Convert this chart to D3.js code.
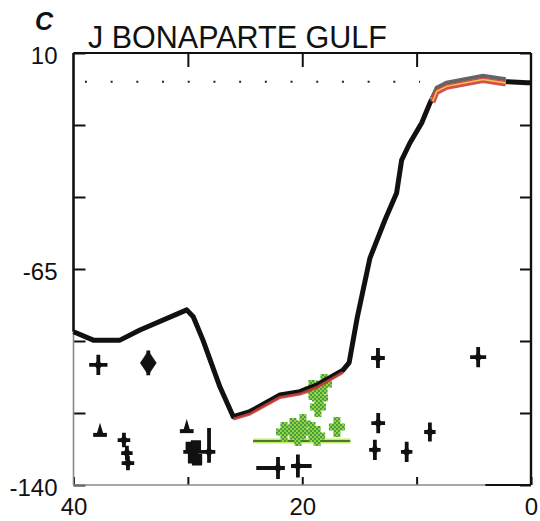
<!DOCTYPE html>
<html>
<head>
<meta charset="utf-8">
<script src="https://cdn.jsdelivr.net/npm/d3@7"></script>
<style>
  html, body { margin: 0; padding: 0; background: #fff; }
  svg { display: block; font-family: "Liberation Sans", Arial, Helvetica, sans-serif; }
</style>
</head>
<body>
<svg id="chart" width="540" height="521"></svg>
<script>
// Relative sea level, Joseph Bonaparte Gulf: age (ka BP) vs level (m)

// Sea-level curve
const curveAge   = [40.0, 38.27, 35.94, 34.19, 30.1, 29.53, 28.68, 27.2, 26.03, 24.57, 21.95, 20.2, 18.74, 16.44, 15.9, 15.2, 14.08, 12.77, 11.75, 11.31, 10.59, 9.56, 8.84, 8.25, 7.38, 4.2, 2.13, 0.36, 0.0];
const curveLevel = [-86.8, -89.7, -89.7, -86.2, -79.2, -81.6, -89.7, -105.9, -116.3, -114.5, -108.75, -107.6, -105.3, -100.1, -97.5, -82.0, -61.2, -48.0, -38.6, -27.2, -21.25, -14.3, -7.4, -2.85, -1.1, 1.3, 0.03, -0.3, -0.3];

// Model envelope drawn along the curve (glacial maximum and Holocene sections)
const envLowAge    = [26.03, 24.57, 21.95, 20.2, 18.74, 16.44];
const envLowLevel  = [-116.3, -114.5, -108.75, -107.6, -105.3, -100.1];
const envHighAge   = [8.6, 8.25, 7.38, 4.2, 2.2];
const envHighLevel = [-6.3, -2.85, -1.1, 1.3, 0.1];

// Black sample markers: age, level, error towards older / younger age (ka),
// error up / down in level (m), symbol
const markAge      = [37.83, 33.46, 37.68, 35.59, 35.33, 35.24, 30.1, 29.75, 29.3, 29.55, 29.2, 28.15, 22.12, 20.38, 13.36, 13.65, 10.87, 8.84, 13.38, 4.62];
const markLevel    = [-98.3, -97.6, -122.6, -124.4, -128.9, -132.4, -121.3, -127.0, -126.5, -130.5, -131.2, -128.5, -134.1, -133.4, -118.5, -127.8, -128.5, -121.6, -95.9, -95.6];
const markErrOld   = [0.8, 0.6, 0.6, 0.55, 0.5, 0.55, 0.6, 0.45, 0.45, 0.45, 0.45, 2.25, 1.9, 0.6, 0.6, 0.5, 0.5, 0.5, 0.6, 0.7];
const markErrYoung = [0.8, 0.6, 0.6, 0.55, 0.5, 0.55, 0.6, 0.45, 0.45, 0.45, 0.45, 0.55, 0.6, 1.2, 0.6, 0.5, 0.5, 0.5, 0.6, 0.7];
const markErrUp    = [3.5, 4.3, 3.5, 2.5, 2.5, 2.5, 3.5, 2.0, 2.0, 2.0, 2.0, 8.3, 3.8, 4.0, 3.5, 3.5, 3.5, 3.3, 3.5, 3.5];
const markErrDown  = [3.5, 4.3, 0, 2.5, 2.5, 2.5, 0, 2.0, 2.0, 2.0, 2.0, 3.8, 3.8, 4.0, 3.5, 3.5, 3.5, 3.3, 3.5, 3.5];
const markShape    = ["plus", "diamond", "tee", "plus", "plus", "plus", "tee", "block", "block", "block", "block", "plus", "plus", "plus", "plus", "plus", "plus", "plus", "plus", "plus"];

// Green sample markers and their baseline
const greenAge   = [19.15, 18.45, 18.63, 18.1, 21.6, 20.81, 19.94, 19.15, 20.38, 18.7, 16.97];
const greenLevel = [-107.0, -109.8, -112.9, -104.9, -121.6, -120.2, -118.8, -121.6, -123.0, -123.0, -119.9];
const greenLineAge = [24.3, 15.8];
const greenLineLevel = -124.7;

// Present-day level reference
const refAge = [39.0, 9.7];
const refLevel = 0;

// Axis ticks and labels
const xTicksTop = [30, 20, 10];
const xTicksBottom = [40, 30, 20, 10, 0];
const xLabels = [40, 20, 0];
const yTicks = [10, -15, -40, -65, -90, -115, -140];
const yLabels = [10, -65, -140];

const panelLetter = "C";
const title = "J BONAPARTE GULF";

const svg = d3.select("#chart");
const x = d3.scaleLinear().domain([40, 0]).range([73.5, 531]);
const y = d3.scaleLinear().domain([10, -140]).range([53, 485]);

// checkered fill for the green markers
const defs = svg.append("defs");
const pat = defs.append("pattern").attr("id", "greenCheck")
  .attr("width", 4).attr("height", 4).attr("patternUnits", "userSpaceOnUse");
pat.append("rect").attr("width", 4).attr("height", 4).attr("fill", "#9ccf3c");
pat.append("rect").attr("width", 2).attr("height", 2).attr("fill", "#3fa045");
pat.append("rect").attr("x", 2).attr("y", 2).attr("width", 2).attr("height", 2).attr("fill", "#3fa045");

// titles
svg.append("text").attr("x", 35).attr("y", 30)
  .attr("font-size", 25).attr("font-weight", "bold").attr("font-style", "italic")
  .attr("fill", "#111").text(panelLetter);
svg.append("text").attr("x", 88).attr("y", 48)
  .attr("font-size", 30.5).attr("fill", "#111").text(title);

// axes
function styleAxis(g) {
  g.select(".domain").remove();
  g.selectAll(".tick line").attr("stroke", "#111").attr("stroke-width", 2);
  g.selectAll(".tick text").attr("font-size", 24).attr("fill", "#111")
    .attr("font-family", "'Liberation Sans', Arial, sans-serif");
}
svg.append("g").attr("transform", `translate(${x(40)},0)`)
  .call(d3.axisLeft(y).tickValues(yTicks).tickSize(-12).tickPadding(16)
    .tickFormat(d => yLabels.includes(d) ? d : ""))
  .call(styleAxis)
  .call(g => g.selectAll(".tick text").attr("dy", "0.42em"));
svg.append("g").attr("transform", `translate(${x(0)},0)`)
  .call(d3.axisRight(y).tickValues(yTicks).tickSize(-11).tickFormat(""))
  .call(styleAxis);
svg.append("g").attr("transform", `translate(0,${y(10)})`)
  .call(d3.axisTop(x).tickValues(xTicksTop).tickSize(-14).tickFormat(""))
  .call(styleAxis);
svg.append("g").attr("transform", `translate(0,${y(-140)})`)
  .call(d3.axisBottom(x).tickValues(xTicksBottom).tickSize(-8).tickPadding(13)
    .tickFormat(d => xLabels.includes(d) ? d : ""))
  .call(styleAxis);

// frame
const frame = svg.append("g").attr("fill", "none");
frame.append("line").attr("x1", x(40)).attr("x2", x(0)).attr("y1", y(10)).attr("y2", y(10))
  .attr("stroke", "#111").attr("stroke-width", 2.2);
frame.append("line").attr("x1", x(0)).attr("x2", x(0)).attr("y1", y(10)).attr("y2", y(-140))
  .attr("stroke", "#111").attr("stroke-width", 2.4);
frame.append("line").attr("x1", x(40)).attr("x2", x(40)).attr("y1", y(10)).attr("y2", y(-86.8))
  .attr("stroke", "#111").attr("stroke-width", 2.6);
frame.append("line").attr("x1", x(40)).attr("x2", x(40)).attr("y1", y(-86.8)).attr("y2", y(-140))
  .attr("stroke", "#8a8a8a").attr("stroke-width", 1.6);
frame.append("line").attr("x1", x(40)).attr("x2", x(4)).attr("y1", y(-140)).attr("y2", y(-140))
  .attr("stroke", "#8a8a8a").attr("stroke-width", 1.6);
frame.append("line").attr("x1", x(4)).attr("x2", x(0)).attr("y1", y(-140)).attr("y2", y(-140))
  .attr("stroke", "#111").attr("stroke-width", 2);

// present-day reference (dotted)
svg.append("line")
  .attr("x1", x(refAge[0])).attr("x2", x(refAge[1]))
  .attr("y1", y(refLevel)).attr("y2", y(refLevel))
  .attr("stroke", "#222").attr("stroke-width", 2).attr("stroke-dasharray", "2 23.7");

// green samples
const gBase = svg.append("g");
gBase.append("line")
  .attr("x1", x(greenLineAge[0])).attr("x2", x(greenLineAge[1]))
  .attr("y1", y(greenLineLevel)).attr("y2", y(greenLineLevel))
  .attr("stroke", "#cde86e").attr("stroke-width", 5);
gBase.append("line")
  .attr("x1", x(greenLineAge[0])).attr("x2", x(greenLineAge[1]))
  .attr("y1", y(greenLineLevel)).attr("y2", y(greenLineLevel))
  .attr("stroke", "#3f7f2a").attr("stroke-width", 2);
const greenIdx = d3.range(greenAge.length);
svg.append("g").selectAll("path").data(greenIdx).join("path")
  .attr("d", i => {
    const cx = x(greenAge[i]), cy = y(greenLevel[i]);
    const ah = 8, av = 10, t = 3.5;
    return `M${cx - t},${cy - av}H${cx + t}V${cy - t}H${cx + ah}V${cy + t}H${cx + t}V${cy + av}H${cx - t}V${cy + t}H${cx - ah}V${cy - t}H${cx - t}Z`;
  })
  .attr("fill", "url(#greenCheck)");

// sea-level curve
const idx = d3.range(curveAge.length);
const line = d3.line().x(i => x(curveAge[i])).y(i => y(curveLevel[i])).curve(d3.curveLinear);
svg.append("path").attr("d", line(idx))
  .attr("fill", "none").attr("stroke", "#111").attr("stroke-width", 5)
  .attr("stroke-linejoin", "round").attr("stroke-linecap", "butt");

// model envelope along the curve
const envLowIdx = d3.range(envLowAge.length);
const envLine = (a, l) => d3.line().x(i => x(a[i])).y(i => y(l[i]));
svg.append("path").attr("d", envLine(envLowAge, envLowLevel)(envLowIdx))
  .attr("transform", "translate(0,2.4)")
  .attr("fill", "none").attr("stroke", "#c53f3a").attr("stroke-width", 3)
  .attr("stroke-linejoin", "round").attr("opacity", 0.9);
const envHighIdx = d3.range(envHighAge.length);
svg.append("path").attr("d", envLine(envHighAge, envHighLevel)(envHighIdx))
  .attr("fill", "none").attr("stroke", "#fff").attr("stroke-width", 5.5);
svg.append("path").attr("d", envLine(envHighAge, envHighLevel)(envHighIdx))
  .attr("transform", "translate(0,-2.2)")
  .attr("fill", "none").attr("stroke", "#4a4a4a").attr("stroke-width", 4).attr("opacity", 0.85);
svg.append("path").attr("d", envLine(envHighAge, envHighLevel)(envHighIdx))
  .attr("transform", "translate(0,2.2)")
  .attr("fill", "none").attr("stroke", "#d33d3d").attr("stroke-width", 5.5).attr("opacity", 0.9);
svg.append("path").attr("d", envLine(envHighAge, envHighLevel)(envHighIdx))
  .attr("transform", "translate(0,1.4)")
  .attr("fill", "none").attr("stroke", "#f2c84a").attr("stroke-width", 1.5);

// black sample markers
const mIdx = d3.range(markAge.length);
const mg = svg.append("g").attr("fill", "#111").attr("stroke", "#111");
mIdx.forEach(i => {
  const cx = x(markAge[i]), cy = y(markLevel[i]);
  const x0 = x(markAge[i] + markErrOld[i]), x1 = x(markAge[i] - markErrYoung[i]);
  const y0 = y(markLevel[i] + markErrUp[i]), y1 = y(markLevel[i] - markErrDown[i]);
  const s = markShape[i];
  if (s === "tee") {
    mg.append("path").attr("d", `M${x0},${cy}H${x1}`).attr("stroke-width", 4);
    mg.append("path").attr("d", `M${cx - 3},${cy}L${cx},${y0}L${cx + 3},${cy}Z`).attr("stroke-width", 1.2);
  } else if (s === "block") {
    mg.append("path").attr("d", `M${x0},${cy}H${x1}M${cx},${y0}V${y1}`).attr("stroke-width", 10);
  } else {
    mg.append("path").attr("d", `M${x0},${cy}H${x1}M${cx},${y0}V${y1}`)
      .attr("stroke-width", 3.8).attr("fill", "none");
    const dw = s === "diamond" ? 8 : 4, dh = s === "diamond" ? 12 : 5;
    mg.append("path").attr("d", `M${cx - dw},${cy}L${cx},${cy - dh}L${cx + dw},${cy}L${cx},${cy + dh}Z`)
      .attr("stroke-width", 0.5);
  }
});
</script>
</body>
</html>
